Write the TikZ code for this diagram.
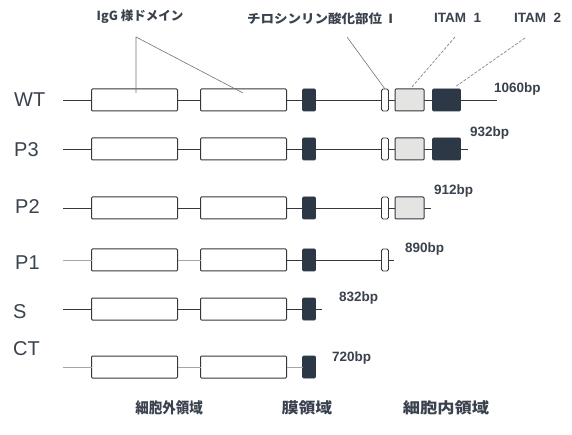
\documentclass[tikz,border=0pt]{standalone}
\usepackage{fontspec}
\usepackage{graphicx}
\setmainfont{Liberation Sans}
\newfontfamily\jp{Noto Sans CJK JP}
\definecolor{txtc}{RGB}{58,66,78}
\definecolor{lnc}{RGB}{52,56,62}
\definecolor{darkb}{RGB}{44,56,70}
\definecolor{speck}{RGB}{228,228,226}
\begin{document}
\begin{tikzpicture}[x=1pt,y=-1pt,
  bb/.style={draw=lnc, line width=0.9pt},
  faint/.style={draw=lnc!45, line width=0.8pt},
  wbox/.style={draw=lnc, fill=white, line width=1pt, rounded corners=1pt, minimum height=22pt, inner sep=0pt, outer sep=0pt},
  tmbox/.style={draw=darkb, fill=darkb, line width=0.6pt, rounded corners=1pt, minimum width=13pt, minimum height=22pt, inner sep=0pt, outer sep=0pt},
  sbox/.style={draw=lnc, fill=white, line width=0.9pt, rounded corners=1.5pt, minimum width=7pt, minimum height=22pt, inner sep=0pt, outer sep=0pt},
  itamA/.style={draw=lnc, fill=speck, line width=1pt, rounded corners=1pt, minimum width=29pt, minimum height=22pt, inner sep=0pt, outer sep=0pt},
  itamB/.style={draw=darkb, fill=darkb, line width=0.6pt, rounded corners=1pt, minimum width=28pt, minimum height=22pt, inner sep=0pt, outer sep=0pt},
  rowlab/.style={anchor=west, inner sep=0pt, text=txtc, font=\fontsize{20}{22}\selectfont},
  bplab/.style={anchor=west, inner sep=0pt, text=txtc, font=\bfseries\fontsize{13.5}{15}\selectfont},
  toplab/.style={inner sep=0pt, text=txtc, font=\jp\bfseries\fontsize{12.5}{14}\selectfont},
  itamlab/.style={anchor=west, inner sep=0pt, text=txtc, font=\bfseries\fontsize{13.5}{15}\selectfont},
  botlab/.style={inner sep=0pt, text=txtc, font=\jp\bfseries\fontsize{15}{17}\selectfont},
  pointer/.style={draw=lnc!70, line width=0.6pt},
  dpointer/.style={draw=lnc!60, line width=0.7pt, dash pattern=on 3pt off 1.5pt}
]
\useasboundingbox[fill=white] (0,0) rectangle (572,435);

% row coordinates
\foreach \r/\y/\e in {wt/100/497,p3/149/468,p2/208/431,p1/260/394,s/309/322,ct/367/316}{
  \coordinate (\r-s) at (63,\y);
  \coordinate (\r-e) at (\e,\y);
}

% backbones
\foreach \r in {wt,p3,p2,s}{ \draw[bb] (\r-s) -- (\r-e); }

% domain boxes
\foreach \r/\y in {wt/100,p3/149,p2/208,p1/260,s/309,ct/367}{
  \node[wbox, minimum width=86pt] (\r-b1) at (134.5,\y) {};
  \node[wbox, minimum width=86pt] (\r-b2) at (243.5,\y) {};
  \node[tmbox] (\r-tm) at (309,\y) {};
}
% faint backbones for P1 and CT
\draw[faint] (p1-s) -- (p1-b1.west);
\draw[faint] (p1-b1.east) -- (p1-b2.west);
\draw[bb] (p1-b2.east) -- (p1-tm.west);
\draw[bb] (p1-tm.east) -- (p1-e);
\draw[faint] (ct-s) -- (ct-b1.west);
\draw[faint] (ct-b1.east) -- (ct-b2.west);
\draw[faint] (ct-b2.east) -- (ct-tm.west);

\foreach \r/\y in {wt/100,p3/149,p2/208,p1/260}{
  \node[sbox] (\r-y) at (385,\y) {};
}
\foreach \r/\y in {wt/100,p3/149,p2/208}{
  \node[itamA] (\r-i1) at (409.5,\y) {};
}
\foreach \r/\y in {wt/100,p3/149}{
  \node[itamB] (\r-i2) at (446.5,\y) {};
}

% row labels
\node[rowlab] (lwt) at (14,100) {WT};
\node[rowlab] (lp3) at (14,150) {P3};
\node[rowlab] (lp2) at (15,207) {P2};
\node[rowlab] (lp1) at (15,263) {P1};
\node[rowlab] (ls) at (13,312) {S};
\node[rowlab] (lct) at (13,349) {CT};

% bp labels
\node[bplab] (bwt) at (494,89) {1060bp};
\node[bplab] (bp3) at (470,133) {932bp};
\node[bplab] (bp2) at (434,191) {912bp};
\node[bplab] (bp1) at (405,249) {890bp};
\node[bplab] (bs) at (339,298) {832bp};
\node[bplab] (bct) at (332,358) {720bp};

% top labels
\node[toplab] (tigg) at (140,17) {IgG 様ドメイン};
\node[toplab, anchor=west] (tyr) at (247,19) {\scalebox{1.08}[1]{チロシンリン酸化部位\ \ I}};
\node[itamlab] (ti1) at (434,18) {ITAM\ \ 1};
\node[itamlab] (ti2) at (514,18) {ITAM\ \ 2};

% pointers
\coordinate (iggv) at (136,37);
\coordinate (igg1) at (136,93);
\coordinate (igg2) at (243,93);
\draw[pointer] (igg1) -- (iggv) -- (igg2);
\coordinate (tyrs) at (347,37);
\draw[pointer] (tyrs) -- (wt-y.north);
\coordinate (i1s) at (455,37);
\coordinate (i1e) at (411,88);
\draw[dpointer] (i1s) -- (i1e);
\coordinate (i2s) at (525,38);
\coordinate (i2e) at (455,87);
\draw[dpointer] (i2s) -- (i2e);

% bottom labels
\node[botlab] (bx1) at (169,408) {\scalebox{0.9}[1]{細胞外領域}};
\node[botlab] (bx2) at (307,408) {\scalebox{1.12}[1]{膜領域}};
\node[botlab] (bx3) at (446,408) {\scalebox{1.15}[1]{細胞内領域}};
\end{tikzpicture}
\end{document}
